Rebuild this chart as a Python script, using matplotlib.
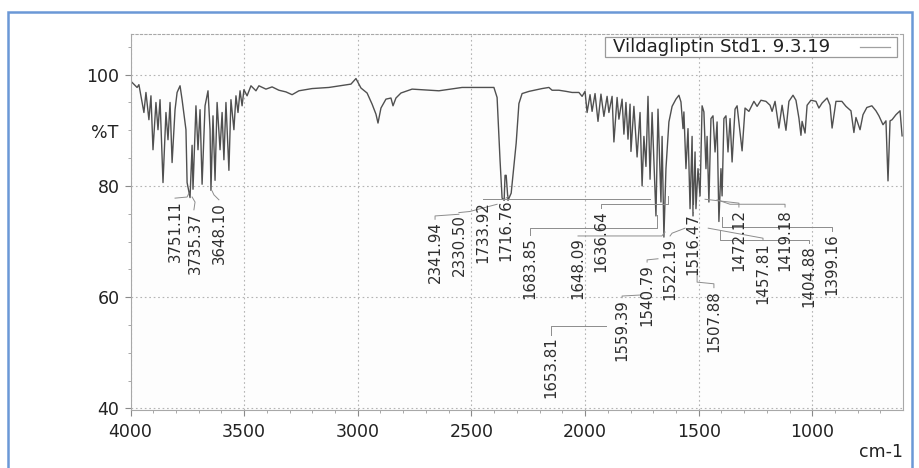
import matplotlib
matplotlib.use("Agg")
import matplotlib.pyplot as plt
from matplotlib.patches import Rectangle
from matplotlib.lines import Line2D
from matplotlib.ticker import MultipleLocator
from matplotlib.transforms import blended_transform_factory

# Spectrum vertices (wavenumber in cm-1, %T)
wavenumber = [
    3993, 3971, 3963, 3941, 3932, 3919, 3910, 3901, 3888, 3879, 3870, 3857,
    3844, 3835, 3826, 3817, 3804, 3795, 3782, 3773, 3756, 3751, 3738, 3729,
    3725, 3712, 3703, 3694, 3685, 3672, 3659, 3650, 3646, 3637, 3628, 3619,
    3606, 3597, 3589, 3580, 3567, 3558, 3545, 3536, 3527, 3518, 3509, 3501,
    3487, 3470, 3448, 3435, 3404, 3377, 3347, 3316, 3289, 3259, 3201, 3127,
    3061, 3030, 3008, 2986, 2959, 2937, 2920, 2911, 2898, 2876, 2854, 2845,
    2832, 2810, 2761, 2643, 2541, 2401, 2387, 2374, 2365, 2356, 2352, 2347,
    2339, 2325, 2303, 2291, 2277, 2246, 2189, 2159, 2145, 2115, 2084, 2057,
    2027, 2013, 2000, 1991, 1978, 1969, 1956, 1943, 1930, 1917, 1903, 1895,
    1881, 1873, 1859, 1851, 1837, 1829, 1820, 1811, 1802, 1798, 1785, 1771,
    1758, 1749, 1741, 1732, 1723, 1714, 1705, 1688, 1679, 1666, 1661, 1653,
    1644, 1631, 1617, 1600, 1587, 1578, 1569, 1565, 1556, 1547, 1538, 1529,
    1525, 1516, 1512, 1503, 1494, 1485, 1477, 1468, 1463, 1455, 1446, 1437,
    1428, 1419, 1411, 1402, 1397, 1389, 1380, 1371, 1362, 1353, 1340, 1331,
    1309, 1296, 1279, 1257, 1243, 1226, 1204, 1186, 1177, 1164, 1147, 1133,
    1116, 1103, 1085, 1072, 1059, 1050, 1045, 1032, 1023, 1006, 984, 971,
    957, 935, 922, 913, 896, 870, 852, 830, 817, 808, 790, 777,
    760, 738, 720, 707, 689, 676, 667, 658, 649, 632, 614, 605,
]
transmittance = [
    98.6, 97.7, 98.2, 93.2, 96.8, 91.9, 96.2, 86.5, 95.0, 90.1, 95.5, 80.6,
    93.2, 88.3, 95.0, 84.2, 93.7, 96.8, 98.0, 95.5, 90.1, 80.6, 77.9, 87.3,
    79.4, 94.4, 86.5, 93.7, 80.3, 94.4, 97.1, 90.1, 79.2, 92.6, 81.0, 95.0,
    86.5, 93.2, 84.7, 95.0, 82.8, 95.5, 90.1, 96.2, 93.2, 97.1, 94.4, 97.3,
    96.2, 98.0, 97.1, 98.0, 97.4, 97.8, 97.2, 96.9, 96.4, 97.1, 97.5, 97.7,
    98.1, 98.3, 99.3, 97.6, 96.7, 94.7, 92.9, 91.3, 94.0, 95.6, 95.8, 94.4,
    95.8, 96.7, 97.4, 97.1, 97.7, 97.7, 95.9, 84.6, 77.8, 77.4, 81.9, 81.9,
    77.4, 78.7, 87.7, 94.8, 96.6, 97.0, 97.5, 97.7, 97.2, 97.2, 97.0, 96.8,
    96.8, 96.1, 97.0, 93.2, 96.4, 93.4, 96.6, 91.6, 96.5, 92.5, 96.1, 93.2,
    96.1, 87.9, 95.9, 92.0, 95.6, 89.3, 95.0, 88.4, 94.7, 86.2, 94.3, 85.2,
    93.2, 80.0, 88.9, 83.5, 96.1, 81.2, 93.2, 74.6, 93.8, 77.1, 88.9, 70.8,
    83.1, 91.5, 94.3, 95.6, 96.3, 95.1, 90.3, 93.3, 83.1, 90.3, 75.9, 88.9,
    74.6, 86.1, 75.9, 83.1, 78.2, 94.4, 93.3, 83.1, 88.9, 77.1, 92.1, 92.6,
    86.1, 91.5, 73.6, 83.1, 78.2, 92.1, 92.6, 86.1, 92.1, 84.3, 93.8, 94.4,
    86.3, 94.0, 93.4, 95.2, 94.3, 95.4, 95.2, 94.5, 93.4, 95.2, 90.4, 94.5,
    90.0, 95.2, 96.3, 95.4, 92.2, 89.1, 91.6, 89.5, 94.5, 95.4, 95.2, 94.0,
    94.9, 95.8, 94.5, 90.4, 95.2, 95.2, 94.3, 93.5, 89.6, 92.3, 90.1, 92.8,
    94.1, 94.4, 93.5, 92.6, 91.0, 91.7, 80.9, 91.7, 91.9, 92.8, 93.5, 89.0,
]

# Peak table labels: text, anchor (top of the rotated label) and leader line
peak_labels = [
    "3751.11", "3735.37", "3648.10", "2341.94", "2330.50", "1733.92", "1716.76",
    "1683.85", "1648.09", "1636.64", "1653.81", "1559.39", "1540.79", "1522.19",
    "1516.47", "1507.88", "1472.12", "1457.81", "1419.18", "1404.88", "1399.16",
]
label_wn = [3804, 3716, 3611, 2660, 2555, 2449, 2348, 2242, 2031, 1930, 2150,
            1837, 1727, 1626, 1525, 1433, 1323, 1217, 1120, 1015, 914]
label_t = [77.5, 75.3, 77.1, 73.7, 74.9, 77.3, 77.6, 70.8, 70.8, 75.7, 52.9,
           59.7, 66.0, 70.6, 75.1, 61.3, 75.8, 69.9, 75.8, 69.4, 71.5]
leaders = [
    [(3804, 77.8), (3751, 78.0), (3743, 78.7)],
    [(3721, 75.7), (3716, 77.1), (3729, 78.0)],
    [(3611, 77.5), (3633, 78.4), (3641, 79.1)],
    [(2660, 74.0), (2660, 74.6), (2555, 74.9)],
    [(2555, 75.2), (2507, 75.4), (2387, 76.7)],
    [(2449, 77.6), (1714, 77.6)],
    [(2348, 77.8), (2335, 78.2)],
    [(2242, 71.2), (2242, 72.4), (1683, 72.4), (1683, 74.8)],
    [(2031, 71.0), (1662, 71.0), (1648, 71.7)],
    [(1930, 76.0), (1930, 76.7), (1636, 76.7), (1636, 78.2)],
    [(2150, 53.2), (2150, 54.8), (1908, 54.8)],
    [(1837, 59.9), (1837, 60.2), (1749, 60.4)],
    [(1727, 66.3), (1727, 66.7), (1679, 66.9)],
    [(1626, 71.0), (1617, 71.5), (1560, 72.4)],
    [(1525, 75.5), (1525, 76.6)],
    [(1433, 61.7), (1433, 62.4), (1507, 62.7), (1507, 64.0)],
    [(1323, 76.2), (1323, 76.9), (1472, 77.6)],
    [(1217, 70.3), (1217, 70.6), (1458, 72.4)],
    [(1120, 76.2), (1120, 76.7), (1362, 76.7), (1419, 77.5)],
    [(1015, 69.7), (1015, 70.3), (1405, 70.3), (1405, 72.1)],
    [(914, 71.9), (914, 72.6), (1399, 72.6), (1399, 74.4)],
]

x_ticks = [4000, 3500, 3000, 2500, 2000, 1500, 1000]
y_ticks = [40, 60, 80, 100]
legend_text = "Vildagliptin Std1. 9.3.19"

plt.rcParams["font.family"] = ["DejaVu Sans"]

fig = plt.figure(figsize=(9.19, 4.68), dpi=100)
fig.patch.set_facecolor("white")
ax = fig.add_axes([130.5 / 919, 1 - 409.5 / 468, 772.5 / 919, 376 / 468])
ax.set_facecolor("#fdfdfd")

ax.plot(wavenumber, transmittance, color="#505050", lw=1.0)

ax.set_xlim(4000, 601)
ax.set_ylim(39.8, 107.4)
ax.set_xticks(x_ticks)
ax.set_yticks(y_ticks)
ax.xaxis.set_minor_locator(MultipleLocator(100))
ax.yaxis.set_minor_locator(MultipleLocator(5))
ax.tick_params(which="major", direction="out", length=4, width=0.8, color="#8a8a8a",
               labelsize=12.5, labelcolor="#222222")
ax.tick_params(which="minor", direction="out", length=2.5, width=0.6, color="#9a9a9a")
ax.tick_params(axis="x", pad=6)
ax.tick_params(axis="y", pad=4)
ax.grid(True, which="major", color="#b4b4b4", linestyle=(0, (1.5, 2.5)), linewidth=0.8)

for side, spine in ax.spines.items():
    spine.set_color("#a8a8a8")
    spine.set_linewidth(0.8)
ax.spines["top"].set_linestyle((0, (2, 2)))

# %T label sits in the tick label column
trans = blended_transform_factory(ax.transAxes, ax.transData)
ax.text(-0.016, 89.6, "%T", transform=trans, ha="right", va="center",
        fontsize=12.5, color="#222222")
fig.text(903 / 919, 1 - 452 / 468, "cm-1", ha="right", va="center",
         fontsize=12.5, color="#222222")

# peak labels with leader lines
for text, wn, t, pts in zip(peak_labels, label_wn, label_t, leaders):
    xs, ys = zip(*pts)
    ax.plot(xs, ys, color="#8c8c8c", lw=0.7)
    ax.text(wn, t, text, rotation=90, ha="center", va="top",
            fontsize=10.8, color="#2e2e2e")

# legend box, handle on the right like the instrument printout
ax.add_patch(Rectangle((0.614, 0.9367), 0.378, 0.054, transform=ax.transAxes,
                       facecolor="white", edgecolor="#9a9a9a", lw=0.9, zorder=5))
ax.text(0.6246, 0.964, legend_text, transform=ax.transAxes, ha="left",
        va="center", fontsize=13, color="#222222", zorder=6)
ax.add_line(Line2D([0.944, 0.983], [0.964, 0.964], transform=ax.transAxes,
                   color="#a0a0a0", lw=0.9, zorder=6))

# blue frame of the pasted picture
fig.add_artist(Rectangle((8 / 919, -0.1), 904 / 919, 1.1 - 12 / 468,
                         transform=fig.transFigure, fill=False,
                         edgecolor="#6b98d6", lw=1.8))

fig.savefig("out.png", dpi=100)
